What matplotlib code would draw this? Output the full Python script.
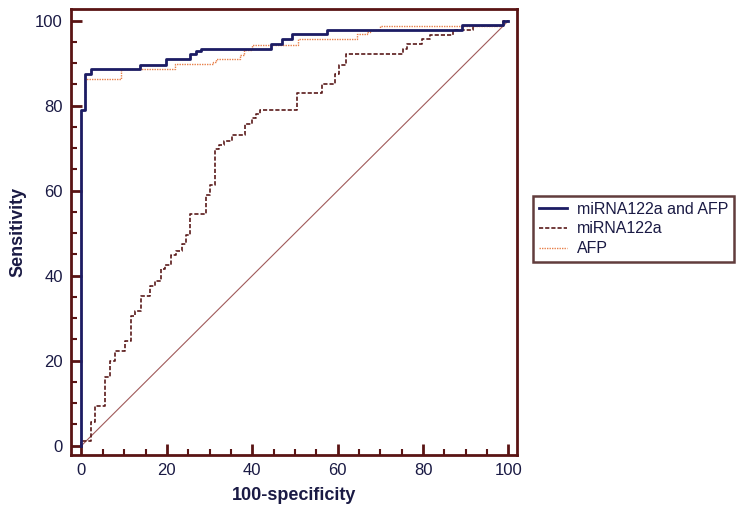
import numpy as np
import matplotlib
matplotlib.use("Agg")
import matplotlib.pyplot as plt
from matplotlib.ticker import MultipleLocator

plt.rcParams['font.family'] = ['Liberation Sans', 'DejaVu Sans']

# ROC curves (x = 100-specificity, y = sensitivity)
comb_x = [0, 0, 0.9, 2.2, 13.8, 19.8, 25.5, 26.9, 27.9, 44.4, 46.9, 49.2, 57.5, 89.2, 98.7, 100]
comb_y = [0, 78.9, 87.4, 88.6, 89.6, 90.9, 92.2, 92.8, 93.4, 94.5, 95.6, 96.8, 97.9, 99.0, 100, 100]

mir_x = [0, 0, 2.2, 3.2, 5.55, 6.7, 7.9, 10.2, 11.6, 12.6, 13.9, 16.1, 17.3, 18.6, 19.6,
         21.0, 22.2, 23.5, 24.4, 25.5, 29.2, 30.1, 31.3, 32.3, 33.3, 35.2, 38.3, 39.9,
         40.8, 41.7, 50.4, 56.3, 59.4, 60.2, 62.0, 75.3, 76.3, 79.7, 81.7, 87.0, 91.8,
         98.8, 100]
mir_y = [0, 1.1, 5.6, 9.4, 16.2, 19.9, 22.3, 24.7, 30.4, 31.8, 35.2, 37.6, 38.8, 41.5, 42.4,
         44.8, 45.9, 47.5, 49.6, 54.6, 59.0, 61.3, 69.7, 70.7, 71.7, 73.1, 75.6, 77.0,
         78.0, 79.0, 83.0, 85.0, 87.5, 89.6, 92.2, 93.3, 94.5, 95.6, 96.6, 97.8, 98.8,
         100, 100]

afp_x = [0, 0, 0.9, 9.2, 22.0, 30.8, 31.5, 37.2, 38.0, 39.9, 50.6, 64.5, 66.8, 67.5, 69.8, 98.7, 100]
afp_y = [0, 79.0, 86.2, 88.6, 89.7, 90.3, 90.9, 91.9, 93.2, 94.3, 95.6, 96.8, 97.3, 97.8, 98.8, 100, 100]

labels = ['miRNA122a and AFP', 'miRNA122a', 'AFP']

spine_col = '#5a1414'
text_col = '#1a1a44'

fig = plt.figure(figsize=(7.47, 5.15), dpi=100)
ax = fig.add_axes([71/747, 1-455/515, (517-71)/747, (455-9)/515])

# reference diagonal
ax.plot([0, 100], [0, 100], color='#a05a5a', lw=0.8, zorder=1)
ax.plot(mir_x, mir_y, drawstyle='steps-post', color='#5a1a1a', lw=1.2,
        ls=(0, (2.5, 1.2)), label=labels[1], zorder=2)
ax.plot(afp_x, afp_y, drawstyle='steps-post', color='#e8804a', lw=1.0,
        ls=(0, (1, 0.8)), label=labels[2], zorder=3)
ax.plot(comb_x, comb_y, drawstyle='steps-post', color='#1c1c64', lw=2.0,
        label=labels[0], zorder=4)

ax.set_xlim(-2.45, 102)
ax.set_ylim(-2.2, 102.75)
ax.xaxis.set_major_locator(MultipleLocator(20))
ax.xaxis.set_minor_locator(MultipleLocator(5))
ax.yaxis.set_major_locator(MultipleLocator(20))
ax.yaxis.set_minor_locator(MultipleLocator(5))
ax.tick_params(which='major', direction='in', length=8, width=2, color=spine_col,
               labelsize=12, labelcolor=text_col, pad=6)
ax.tick_params(which='minor', direction='in', length=4, width=1.5, color=spine_col)
for s in ax.spines.values():
    s.set_color(spine_col)
    s.set_linewidth(2)

ax.set_xlabel('100-specificity', fontsize=13, fontweight='bold', color=text_col, labelpad=6)
ax.set_ylabel('Sensitivity', fontsize=13, fontweight='bold', color=text_col, labelpad=6)

h, l = ax.get_legend_handles_labels()
order = [2, 0, 1]
leg = ax.legend([h[i] for i in order], [l[i] for i in order],
                loc='upper left', bbox_to_anchor=(533/747, 1-196/515),
                bbox_transform=fig.transFigure, borderaxespad=0,
                fontsize=11.5, frameon=True, fancybox=False, handlelength=1.8,
                handletextpad=0.6, labelspacing=0.3, borderpad=0.35)
leg.get_frame().set_edgecolor('#3a0c0c')
leg.get_frame().set_linewidth(1.8)
for t in leg.get_texts():
    t.set_color(text_col)

fig.savefig('out.png', dpi=100)
